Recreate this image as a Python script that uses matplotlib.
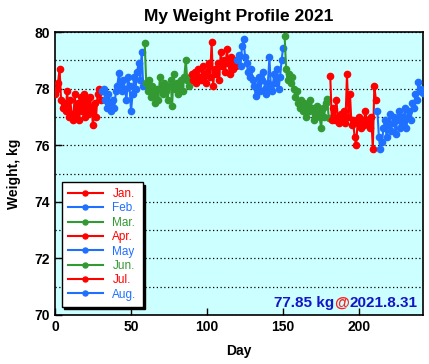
import numpy as np
import matplotlib.pyplot as plt

plt.rcParams['font.family'] = ['Liberation Sans', 'DejaVu Sans']

months = ["Jan.", "Feb.", "Mar.", "Apr.", "May", "Jun.", "Jul.", "Aug."]
colors = ["#ff0000", "#2070ff", "#339933"] * 3

jan = [77.8, 78.0, 78.2, 78.7, 77.6, 77.3, 77.5, 77.2, 77.9, 77.0, 77.6, 77.1, 76.9, 77.8, 77.0, 77.5,
       76.9, 77.7, 77.2, 77.8, 77.0, 77.6, 77.1, 77.7, 77.3, 76.7, 77.5, 77.0, 77.8, 78.0, 77.6]
feb = [77.9, 78.0, 77.6, 77.3, 77.8, 77.5, 77.2, 77.6, 77.3, 77.9, 78.1, 78.55, 78.2, 77.9, 78.3, 78.0,
       77.6, 78.4, 78.1, 77.2, 77.8, 78.4, 78.0, 78.6, 78.9, 78.3, 79.3, 78.1]
mar = [79.6, 78.2, 77.9, 78.3, 77.7, 78.1, 77.8, 77.5, 78.0, 77.6, 78.4, 78.0, 77.8, 78.2, 77.9, 77.6,
       78.1, 78.3, 77.4, 78.5, 78.0, 78.2, 77.8, 78.1, 78.3, 77.9, 78.4, 79.0, 78.3, 78.1, 78.4]
apr = [78.5, 78.3, 78.6, 78.2, 78.7, 78.4, 78.3, 78.8, 78.5, 78.2, 78.6, 78.9, 78.4, 79.65, 78.1, 78.7,
       78.5, 78.9, 78.3, 79.3, 78.8, 79.0, 78.6, 79.4, 78.9, 78.5, 79.1, 78.7, 79.0, 78.8]
may = [79.0, 79.2, 78.8, 79.5, 79.75, 79.1, 78.9, 78.6, 78.4, 78.7, 78.3, 78.1, 77.75, 78.0, 78.4, 77.9,
       78.3, 78.6, 78.0, 77.8, 78.2, 79.1, 78.0, 77.9, 78.5, 78.2, 78.7, 78.0, 78.4, 79.0, 79.45]
jun = [79.85, 78.7, 78.3, 78.5, 78.2, 78.4, 78.0, 77.7, 77.9, 77.5, 77.3, 77.6, 77.2, 77.5, 77.0, 77.4,
       77.2, 77.6, 77.3, 76.9, 77.1, 77.4, 77.2, 77.0, 76.6, 77.3, 77.0, 77.5, 77.65, 76.95]
jul = [78.45, 76.9, 77.3, 76.9, 77.6, 77.0, 76.8, 77.1, 76.9, 77.2, 76.8, 78.5, 77.0, 77.8, 76.7, 76.9,
       76.3, 76.0, 76.8, 77.0, 76.6, 76.9, 76.7, 77.2, 76.9, 76.8, 76.6, 77.0, 75.87, 78.1, 77.6]
aug = [77.2, 76.3, 75.85, 76.1, 76.6, 76.9, 76.3, 76.7, 77.1, 76.5, 76.8, 77.0, 76.4, 76.9, 77.2, 76.6,
       77.0, 76.8, 77.3, 76.6, 77.0, 77.2, 76.9, 77.5, 77.3, 77.8, 77.6, 78.25, 77.9, 78.0, 77.85]

series = [jan, feb, mar, apr, may, jun, jul, aug]

fig = plt.figure(figsize=(4.29, 3.64), dpi=100)
ax = fig.add_axes([55/429, 1-315/364, 368/429, 283/364])
ax.set_facecolor('#ccffff')

start = 0
for name, vals, c in zip(months, series, colors):
    days = np.arange(start, start + len(vals))
    ax.plot(days, vals, '-o', color=c, lw=1.5, ms=4.5, label=name, zorder=3)
    start += len(vals)

ax.set_xlim(0, 242)
ax.set_ylim(70, 80)
ax.set_xticks([0, 50, 100, 150, 200])
ax.set_yticks([70, 72, 74, 76, 78, 80])
ax.set_yticks(np.arange(71, 80, 1), minor=True)
ax.grid(True, which='both', axis='y', color='black', linestyle=(0, (1, 2)), lw=0.9)
ax.tick_params(direction='in', length=5, width=1, labelsize=10)
ax.tick_params(which='minor', length=0)
for lbl in ax.get_xticklabels() + ax.get_yticklabels():
    lbl.set_fontweight('bold')
for s in ax.spines.values():
    s.set_linewidth(1.2)

ax.set_title("My Weight Profile 2021", fontsize=12.5, fontweight='bold', pad=8)
ax.set_xlabel("Day", fontsize=10, fontweight='bold', labelpad=7)
ax.set_ylabel("Weight, kg", fontsize=10, fontweight='bold', labelpad=10)

leg = ax.legend(loc='lower left', bbox_to_anchor=(0.018, 0.03), borderaxespad=0, fontsize=8.5,
                handlelength=3.0, markerscale=0.8, labelspacing=0.2, framealpha=1, fancybox=False,
                edgecolor='black', shadow={'color': 'black', 'alpha': 1}, borderpad=0.5)
leg.get_frame().set_linewidth(1)
for t, c in zip(leg.get_texts(), colors):
    t.set_color(c)

# stamp text, right aligned, chained leftwards on one line
t3 = ax.text(0.984, 0.028, "2021.8.31", transform=ax.transAxes, fontsize=11, fontweight='bold',
             color='#1515c8', ha='right', va='baseline')
t2 = ax.annotate("@", xy=(0, 0), xycoords=t3, fontsize=11, fontweight='bold', color='#ff2020',
                 ha='right', va='bottom')
t1 = ax.annotate("77.85 kg", xy=(0, 0), xycoords=(t2, t3), fontsize=11, fontweight='bold',
                 color='#1515c8', ha='right', va='bottom')

fig.savefig("out.png", dpi=100)
